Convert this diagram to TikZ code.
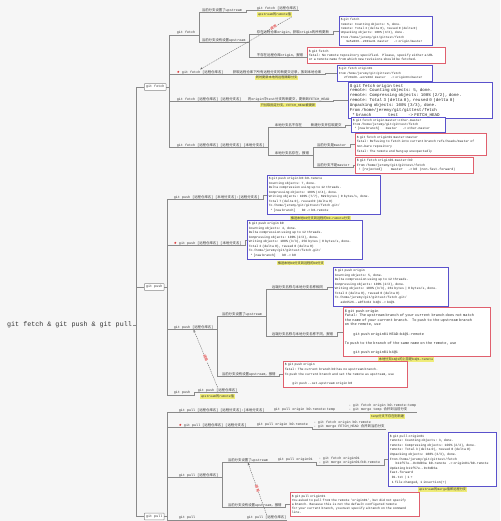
\documentclass[tikz,border=0pt]{standalone}
\usepackage{fontspec}
\setmonofont{Liberation Mono}
\newfontfamily\cjk{Noto Sans CJK SC}
\newfontfamily\djv{DejaVu Sans}
\usetikzlibrary{arrows.meta}
\XeTeXinterchartokenstate=1
\newXeTeXintercharclass\CJKcls
\newcount\cjkc
\cjkc="3000 \loop\XeTeXcharclass\cjkc=\CJKcls\ifnum\cjkc<"303F \advance\cjkc by 1 \repeat
\cjkc="4E00 \loop\XeTeXcharclass\cjkc=\CJKcls\ifnum\cjkc<"9FFF \advance\cjkc by 1 \repeat
\cjkc="FF00 \loop\XeTeXcharclass\cjkc=\CJKcls\ifnum\cjkc<"FFEF \advance\cjkc by 1 \repeat
\XeTeXinterchartoks 0 \CJKcls = {\cjk}
\XeTeXinterchartoks 4095 \CJKcls = {\cjk}
\XeTeXinterchartoks \CJKcls 0 = {\ttfamily}
\XeTeXinterchartoks \CJKcls 4095 = {\ttfamily}
\definecolor{bg}{HTML}{F6F6F6}
\definecolor{linegray}{HTML}{8A8A8A}
\definecolor{codeblue}{HTML}{5A52CC}
\definecolor{codered}{HTML}{E0606E}
\definecolor{hlyellow}{HTML}{EFEC78}
\definecolor{txt}{HTML}{333333}
\newcommand\cbox[9]{\node[#1, text width=#5pt-3pt, minimum height=#6pt, font=\ttfamily\fontsize{#7}{#8}\selectfont] (#2) at (#3,#4) {#9};}
\newcommand\lk[2]{\draw[conn] (#1.south east) -- ++(3,0) |- (#2.south west);}
\newcommand\lkb[2]{\draw[conn] (#1.south east) -- ++(3,0) |- (#2.west);}
\newcommand\lkl[2]{\draw[conn] (#1.east) -- ++(2.5,0) |- (#2.south west);}
\newcommand\stari{{\djv\textcolor{red!85!black}{★}}}
\begin{document}
\begin{tikzpicture}[x=1pt,y=-1pt,
 conn/.style={draw=linegray, line width=0.45pt},
 ulst/.style={draw=linegray, line width=0.4pt},
 lbl/.style={font=\ttfamily\fontsize{3.4}{4.3}\selectfont, text=txt, inner sep=0.7pt, anchor=west,
   append after command={(\tikzlastnode.south west) edge[ulst] (\tikzlastnode.south east)}},
 lbox/.style={draw=linegray, line width=0.5pt, fill=white, rounded corners=0.6pt, font=\ttfamily\fontsize{3.4}{4.3}\selectfont, text=txt, inner sep=1.8pt, anchor=west},
 rootn/.style={font=\ttfamily\fontsize{6.7}{8}\selectfont, text=txt, inner sep=1pt, anchor=west},
 hl/.style={fill=hlyellow, font=\ttfamily\fontsize{3.2}{4}\selectfont, text=txt, inner sep=0.6pt, anchor=north west},
 codeb/.style={draw=codeblue, line width=0.6pt, fill=white, anchor=north west, inner sep=1.5pt, align=left, text=black!85},
 coder/.style={draw=codered, line width=0.6pt, fill=white, anchor=north west, inner sep=1.5pt, align=left, text=black!85},
 rel/.style={draw=black!60, dashed, dash pattern=on 1.2pt off 0.9pt, line width=0.4pt, -{Stealth[length=2.6pt,width=2pt]}},
 callt/.style={text=red!85!black, font=\cjk\fontsize{3.4}{4}\selectfont, fill=bg, inner sep=0.3pt, sloped}
]
\fill[bg] (0,0) rectangle (500,521);
\useasboundingbox (0,0) rectangle (500,521);

% root and main topics
\node[rootn] (R) at (6,325) {git fetch \& git push \& git pull};
\node[lbox] (F1) at (144,87) {git fetch};
\node[lbox] (P1) at (144,287) {git push};
\node[lbox] (L1) at (144,516.5) {git pull};
\draw[conn] (R.east) -- ++(3,0) |- (F1.west);
\draw[conn] (R.east) -- ++(3,0) |- (P1.west);
\draw[conn] (R.east) -- ++(3,0) |- (L1.west);

% ---------------- git fetch ----------------
\node[lbl] (Fa) at (176,33) {git fetch};
\node[lbl] (Fa1) at (201,10) {当前分支设置了upstream};
\node[lbl] (Fa1d) at (256,8) {git fetch [远程仓库名]};
\node[hl] (Fa1y) at (257,11.8) {upstream的remote值};
\node[lbl] (Fa2) at (201,40) {当前分支没有设置upstream};
\node[lbl] (Fa2a) at (256,32) {存在远程仓库origin，获取origin的所有更新};
\node[lbl] (Fa2b) at (256,55) {不存在远程仓库origin，报错};
\cbox{codeb}{B1}{339}{16}{93}{29}{3.06}{4.3}{\$ git fetch\\
remote: Counting objects: 5, done.\\
remote: Total 3 (delta 0), reused 0 (delta 0)\\
Unpacking objects: 100\% (3/3), done.\\
From /home/jeremy/git/gittest/fetch\\
\hphantom{000}9e5e036..2301a31~~master~~~~~-> origin/master}
\cbox{coder}{R1}{307}{47}{138}{16}{3.24}{4.2}{\$ git fetch\\
fatal: No remote repository specified.~ Please, specify either a URL\\
or a remote name from which new revisions should be fetched.}

\node[lbl] (Fb) at (176,72) {\stari{} git fetch [远程仓库名]};
\node[lbl] (Fbd) at (232,72) {获取远程仓库下所有远程分支的新提交记录，放到本地仓库};
\node[hl] (Fby) at (255,75.5) {同时更新本地的远程跟踪分支};
\cbox{codeb}{B2}{337}{65}{95}{16}{3.0}{4.2}{\$ git fetch origin01\\
From /home/jeremy/git/gittest/fetch\\
\hphantom{000}2fc59d0..a47e30d~~master~~~~~-> origin01/master}

\node[lbl] (Fc) at (176,99) {git fetch [远程仓库名] [远程分支名]};
\node[lbl] (Fcd) at (247,99) {将origin中test分支的新提交，更新到FETCH\_HEAD};
\node[hl] (Fcy) at (260,102.5) {只拉取指定分支，FETCH\_HEAD被更新};
\cbox{codeb}{B3}{348}{82}{144}{36}{4.2}{4.85}{\$ git fetch origin test\\
remote: Counting objects: 5, done.\\
remote: Compressing objects: 100\% (2/2), done.\\
remote: Total 3 (delta 0), reused 0 (delta 0)\\
Unpacking objects: 100\% (3/3), done.\\
From /home/jeremy/git/gittest/fetch\\
\hphantom{0}* branch~~~~~~~~~~~~test~~~~~~~-> FETCH\_HEAD}

\node[lbl] (Fd) at (176,145) {git fetch [远程仓库名] [远程分支名] [本地分支名]};
\node[lbl] (Fd1) at (274,125) {本地分支名不存在};
\node[lbl] (Fd1d) at (310,125) {新建分支并拉取提交};
\cbox{codeb}{B4}{351}{117}{94}{15}{3.16}{4.0}{\$ git fetch origin master:other-master\\
From /home/jeremy/git/gittest/fetch\\
\hphantom{0}* [new branch]~~~~~~master~~~~~-> other-master}
\node[lbl] (Fd2) at (274,153) {本地分支名存在，报错};
\node[lbl] (Fd2a) at (316,145) {当前分支是master};
\node[lbl] (Fd2b) at (316,165) {当前分支不是master};
\cbox{coder}{R2}{355}{133}{131}{22}{3.17}{4.6}{\$ git fetch origin01 master:master\\
fatal: Refusing to fetch into current branch refs/heads/master of\\
non-bare repository\\
fatal: The remote end hung up unexpectedly}
\cbox{coder}{R3}{355}{157}{118}{16}{3.3}{4.2}{\$ git fetch origin01 master:b0\\
From /home/jeremy/git/gittest/fetch\\
\hphantom{0}! [rejected]~~~~~~~~master~~~~~-> b0~~(non-fast-forward)}

\lkl{F1}{Fa}\lkl{F1}{Fb}\lkl{F1}{Fc}\lkl{F1}{Fd}
\lk{Fa}{Fa1}\lk{Fa}{Fa2}\lk{Fa1}{Fa1d}
\lk{Fa2}{Fa2a}\lk{Fa2}{Fa2b}\lkb{Fa2a}{B1}\lkb{Fa2b}{R1}
\lk{Fb}{Fbd}\lkb{Fbd}{B2}
\lk{Fc}{Fcd}\lkb{Fcd}{B3}
\lk{Fd}{Fd1}\lk{Fd}{Fd2}\lk{Fd1}{Fd1d}\lkb{Fd1d}{B4}
\lk{Fd2}{Fd2a}\lk{Fd2}{Fd2b}\lkb{Fd2a}{R2}\lkb{Fd2b}{R3}
\draw[rel] (Fa1y.south east) -- node[callt, pos=0.2]{调用} (Fb.north);

% ---------------- git push ----------------
\node[lbl] (Pa) at (173,197) {git push [远程仓库名] [本地分支名]:[远程分支名]};
\cbox{codeb}{B5}{267}{175}{113}{39}{3.15}{4.5}{\$ git push origin b0:b0-remote\\
Counting objects: 7, done.\\
Delta compression using up to 12 threads.\\
Compressing objects: 100\% (4/4), done.\\
Writing objects: 100\% (7/7), 699 bytes | 0 bytes/s, done.\\
Total 7 (delta 0), reused 0 (delta 0)\\
To /home/jeremy/git/gittest/fetch.git/\\
\hphantom{0}* [new branch]~~~~~~b0 -> b0-remote}
\node[hl] (B5y) at (290,215.5) {推送本地b0分支到远程的b0-remote分支};

\node[lbl] (Pb) at (173,243) {\stari{} git push [远程仓库名] [本地分支名]};
\cbox{codeb}{B6}{247}{220}{115}{39}{3.2}{4.5}{\$ git push origin b0\\
Counting objects: 4, done.\\
Delta compression using up to 12 threads.\\
Compressing objects: 100\% (2/2), done.\\
Writing objects: 100\% (3/3), 256 bytes | 0 bytes/s, done.\\
Total 3 (delta 0), reused 0 (delta 0)\\
To /home/jeremy/git/gittest/fetch.git/\\
\hphantom{0}* [new branch]~~~~~~b0 -> b0}
\node[hl] (B6y) at (277,260.5) {推送本地b0分支到远程的b0分支};

\node[lbl] (Pc) at (173,327) {git push [远程仓库名]};
\node[lbl] (Pc1) at (221,314) {当前分支设置了upstream};
\node[lbl] (Pc1a) at (271,287) {远端分支名称与本地分支名称相同};
\node[lbl] (Pc1b) at (271,334) {远端分支名称与本地分支名称不同，报错};
\cbox{codeb}{B7}{333}{267}{115}{39}{3.2}{4.5}{\$ git push origin\\
Counting objects: 5, done.\\
Delta compression using up to 12 threads.\\
Compressing objects: 100\% (2/2), done.\\
Writing objects: 100\% (3/3), 261 bytes | 0 bytes/s, done.\\
Total 3 (delta 0), reused 0 (delta 0)\\
To /home/jeremy/git/gittest/fetch.git/\\
\hphantom{000}a1b6526..a0f3c84~~b4@1 -> b4@1}
\cbox{coder}{R4}{343}{307}{147}{49}{3.6}{4.55}{\$ git push origin\\
fatal: The upstream branch of your current branch does not match\\
the name of your current branch.~ To push to the upstream branch\\
on the remote, use\\
\mbox{}\\
\hphantom{0000}git push origin01 HEAD:b4@1-remote\\
\mbox{}\\
To push to the branch of the same name on the remote, use\\
\mbox{}\\
\hphantom{0000}git push origin01 b4@1}
\node[hl] (R4y) at (378,357) {本地分支b4@1的上游是b4@1-remote};
\node[lbl] (Pc2) at (221,374) {当前分支没有设置upstream，报错};
\cbox{coder}{R5}{283}{361}{124}{26}{3.19}{4.6}{\$ git push origin\\
fatal: The current branch b0 has no upstream branch.\\
To push the current branch and set the remote as upstream, use\\
\mbox{}\\
\hphantom{0000}git push -{}-set-upstream origin b0}

\node[lbl] (Pd) at (173,393) {git push};
\node[lbl] (Pdd) at (197,390) {git push [远程仓库名]};
\node[hl] (Pdy) at (200,394) {upstream的remote值};

\lkl{P1}{Pa}\lkl{P1}{Pb}\lkl{P1}{Pc}\lkl{P1}{Pd}
\lkb{Pa}{B5}\lkb{Pb}{B6}
\lk{Pc}{Pc1}\lk{Pc}{Pc2}\lk{Pc1}{Pc1a}\lk{Pc1}{Pc1b}
\lkb{Pc1a}{B7}\lkb{Pc1b}{R4}\lkb{Pc2}{R5}
\lk{Pd}{Pdd}
\draw[rel] (Pdd.north) -- node[callt]{调用} (Pc.south);

% ---------------- git pull ----------------
\node[lbl] (La) at (178,410) {git pull [远程仓库名] [远程分支名]:[本地分支名]};
\node[lbl] (La2) at (273,410) {git pull origin b0-remote:temp};
\node[lbl, align=left] (La3) at (348,407.5) {- git fetch origin b0-remote:temp\\- git merge temp 合并到当前分支};
\node[hl] (Lay) at (370,414) {temp分支不存在则新建};

\node[lbl] (Lb) at (178,425) {\stari{} git pull [远程仓库名] [远程分支名]};
\node[lbl] (Lb2) at (256,425) {git pull origin b0-remote};
\node[lbl, align=left] (Lb3) at (313,424.5) {- git fetch origin b0-remote\\- git merge FETCH\_HEAD 合并到当前分支};

\node[lbl] (Lc) at (178,475) {git pull [远程仓库名]};
\node[lbl] (Lc1) at (227,460) {当前分支设置了upstream};
\node[lbl] (Lc1d) at (277,460) {git pull origin01};
\node[lbl, align=left] (Lc1e) at (318,460.5) {- git fetch origin01\\- git merge origin01/b0-remote};
\cbox{codeb}{B8}{388}{432}{108}{54}{3.24}{4.6}{\$ git pull origin01\\
remote: Counting objects: 3, done.\\
remote: Compressing objects: 100\% (2/2), done.\\
remote: Total 3 (delta 0), reused 0 (delta 0)\\
Unpacking objects: 100\% (3/3), done.\\
From /home/jeremy/git/gittest/fetch\\
\hphantom{000}b11f57e..0c8d03a~~b0-remote~~-> origin01/b0-remote\\
Updating b11f57e..0c8d03a\\
Fast-forward\\
\hphantom{0}01.txt | 1 +\\
\hphantom{0}1 file changed, 1 insertion(+)}
\node[hl] (B8y) at (418,487) {upstream的merge值即远程分支};
\node[lbl] (Lc2) at (227,505) {当前分支没有设置upstream，报错};
\cbox{coder}{R6}{290}{492}{129}{24}{3.17}{4.2}{\$ git pull origin01\\
You asked to pull from the remote 'origin01', but did not specify\\
a branch. Because this is not the default configured remote\\
for your current branch, you must specify a branch on the command\\
line.}

\node[lbl] (Ld) at (178,517.5) {git pull};
\node[lbl] (Ldd) at (246,517.5) {git pull [远程仓库名]};

\lkl{L1}{La}\lkl{L1}{Lb}\lkl{L1}{Lc}\lkl{L1}{Ld}
\lk{La}{La2}\lk{La2}{La3}
\lk{Lb}{Lb2}\lk{Lb2}{Lb3}
\lk{Lc}{Lc1}\lk{Lc}{Lc2}\lk{Lc1}{Lc1d}\lk{Lc1d}{Lc1e}\lkb{Lc1e}{B8}
\lkb{Lc2}{R6}
\lk{Ld}{Ldd}
\draw[rel] (Ldd.north) -- node[callt]{调用} (Lc1.south);
\end{tikzpicture}
\end{document}
